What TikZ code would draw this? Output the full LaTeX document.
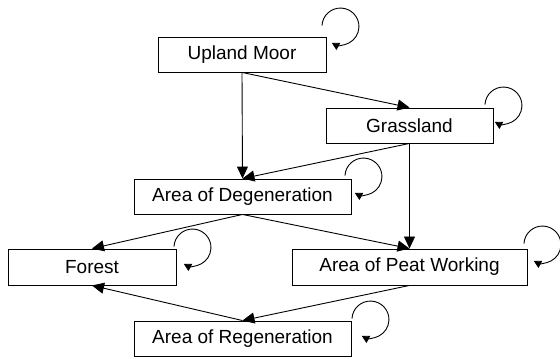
\documentclass[tikz,border=0pt]{standalone}
\usepackage{fontspec}
\setmainfont{Liberation Sans}
\usetikzlibrary{arrows.meta,calc}
\begin{document}
\begin{tikzpicture}[x=1pt,y=1pt,
  box/.style={draw=black,line width=0.9pt,fill=white,inner sep=0pt,
    font=\fontsize{19}{22}\selectfont},
  edge/.style={line width=0.9pt,-{Triangle[length=12pt,width=11pt]}},
  selfloop/.style={line width=0.9pt,-{Triangle[length=7.5pt,width=8pt]}}]
\useasboundingbox (0,0) rectangle (560,359);
\node[box,minimum width=168pt,minimum height=35pt] (um) at (242,304.5) {Upland Moor};
\node[box,minimum width=167pt,minimum height=35pt] (gr) at (409.5,233.5) {Grassland};
\node[box,minimum width=217pt,minimum height=35pt] (aod) at (242.5,162.5) {Area of Degeneration};
\node[box,minimum width=168pt,minimum height=36pt] (fo) at (92,92) {Forest};
\node[box,minimum width=235pt,minimum height=36pt] (pw) at (409.5,92) {Area of Peat Working};
\node[box,minimum width=217pt,minimum height=35pt] (aor) at (242.5,20.5) {Area of Regeneration};
% connectors
\draw[edge] (um.south) -- (aod.north);
\draw[edge] (um.south) -- (gr.north);
\draw[edge] (gr.south) -- (aod.north);
\draw[edge] (gr.south) -- (pw.north);
\draw[edge] (aod.south) -- (fo.north);
\draw[edge] (aod.south) -- (pw.north);
\draw[edge] (pw.south) -- (aor.north);
\draw[edge] (aor.north) -- (fo.south);
% self loops
\coordinate (cum) at ($(um.north east)+(14,10)$);
\coordinate (cgr) at ($(gr.north east)+(10,2)$);
\coordinate (caod) at ($(aod.north east)+(12,2)$);
\coordinate (cfo) at ($(fo.north east)+(16,1)$);
\coordinate (cpw) at ($(pw.north east)+(15,4)$);
\coordinate (caor) at ($(aor.north east)+(19,1)$);
\foreach \c in {cum,cgr,caod,cfo,cpw,caor}{
  \draw[selfloop] (\c) ++(177:18.5) arc[start angle=177,end angle=-118,radius=18.5];
}
\end{tikzpicture}
\end{document}
